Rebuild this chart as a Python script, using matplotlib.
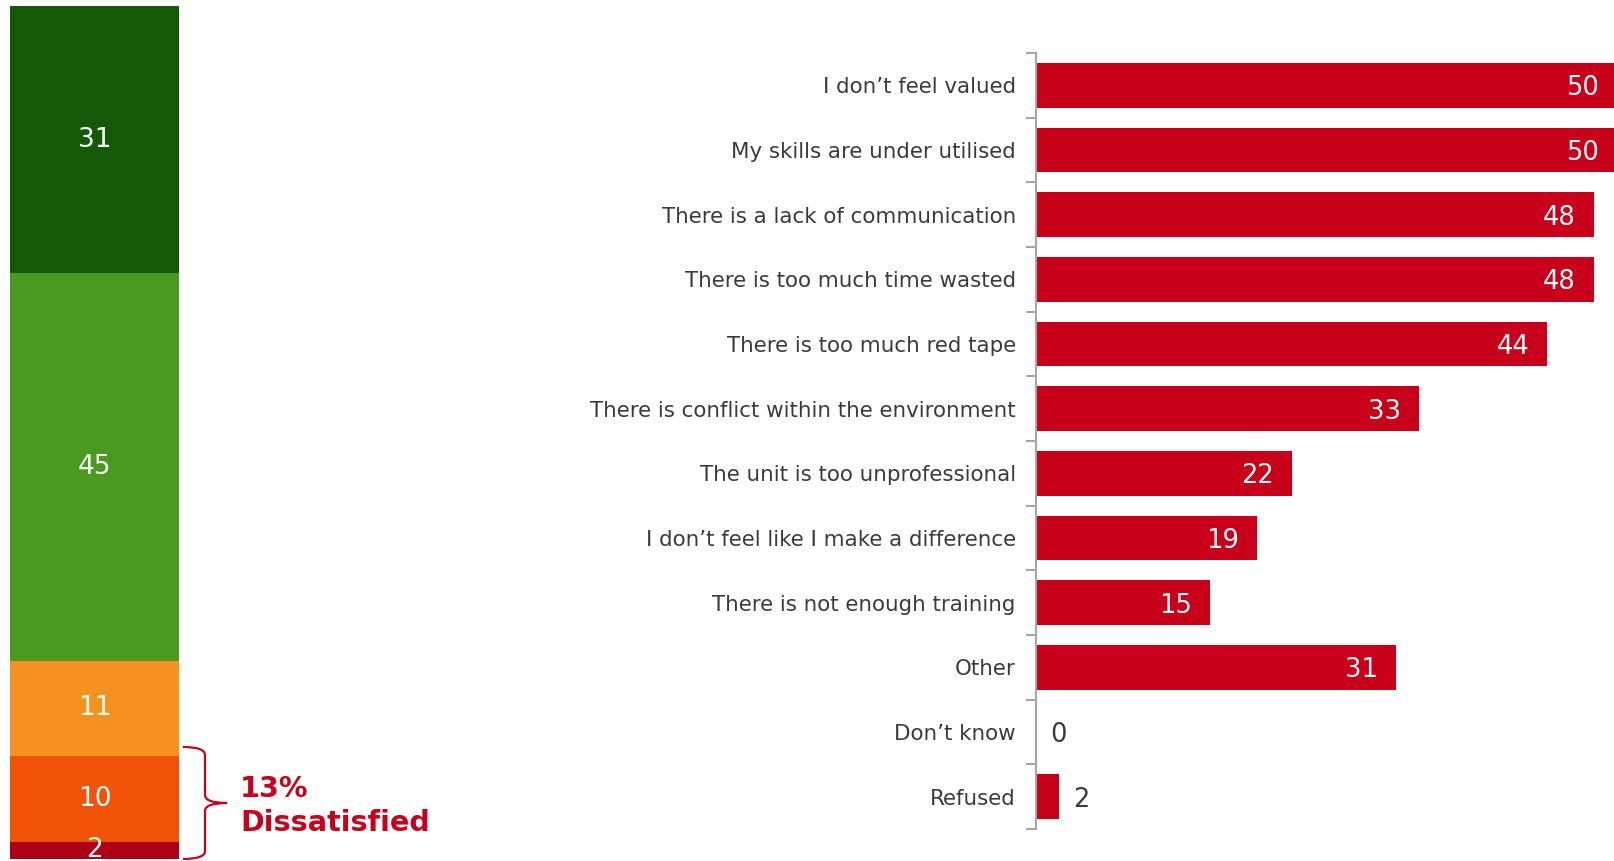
import matplotlib.pyplot as plt
from matplotlib.path import Path
from matplotlib.patches import PathPatch

# overall satisfaction (stacked, top to bottom)
sat_values = [31, 45, 11, 10, 2]
sat_colors = ['#145a06', '#4a9a1f', '#f5921f', '#f05208', '#ae0015']

# reasons for dissatisfaction
reasons = [
    "I don\u2019t feel valued",
    "My skills are under utilised",
    "There is a lack of communication",
    "There is too much time wasted",
    "There is too much red tape",
    "There is conflict within the environment",
    "The unit is too unprofessional",
    "I don\u2019t feel like I make a difference",
    "There is not enough training",
    "Other",
    "Don\u2019t know",
    "Refused",
]
reason_values = [50, 50, 48, 48, 44, 33, 22, 19, 15, 31, 0, 2]

RED = '#c8001a'
TEXT = '#3a3a3a'

W, H = 1614, 861
fig = plt.figure(figsize=(W / 100, H / 100), dpi=100)

# left stacked bar
ax1 = fig.add_axes([10 / W, 2 / H, 169 / W, 853 / H])
bottom = sum(sat_values)
for v, c in zip(sat_values, sat_colors):
    bottom -= v
    ax1.bar(0, v, bottom=bottom, width=1, color=c)
    ax1.text(0, bottom + v / 2, str(v), ha='center', va='center',
             color='white', fontsize=19)
ax1.set_xlim(-0.5, 0.5)
ax1.set_ylim(0, sum(sat_values))
ax1.axis('off')

# curly brace round the dissatisfied part (pixel coords, y from top)
def px(x, y):
    return (x / W, 1 - y / H)

bx0, bx1, bxt = 183, 205, 227
by0, by1, bym = 747, 859, 803
r = 8
verts = [
    px(bx0, by0),
    px(bx1, by0), px(bx1, by0 + r),
    px(bx1, bym - r),
    px(bx1, bym), px(bxt, bym),
    px(bx1, bym), px(bx1, bym + r),
    px(bx1, by1 - r),
    px(bx1, by1), px(bx0, by1),
]
codes = [Path.MOVETO,
         Path.CURVE3, Path.CURVE3,
         Path.LINETO,
         Path.CURVE3, Path.CURVE3,
         Path.CURVE3, Path.CURVE3,
         Path.LINETO,
         Path.CURVE3, Path.CURVE3]
fig.patches.append(PathPatch(Path(verts, codes), transform=fig.transFigure,
                             fill=False, edgecolor=RED, lw=1.6))
fig.text(240 / W, 1 - 797 / H, '13%', color=RED, fontsize=20.6,
         fontweight='bold', va='baseline', ha='left')
fig.text(240 / W, 1 - 831 / H, 'Dissatisfied', color=RED, fontsize=20.6,
         fontweight='bold', va='baseline', ha='left')

# right horizontal bar chart
ax2 = fig.add_axes([1036 / W, 1 - 829 / H, (W - 1036) / W, 776 / H])
y = list(range(len(reasons)))
ax2.barh(y, reason_values, height=0.69, color=RED, left=0)
ax2.set_ylim(len(reasons) - 0.5, -0.5)
ax2.set_xlim(0, 49.75)
for i, v in enumerate(reason_values):
    if v >= 10:
        ax2.annotate(str(v), (v, i), xytext=(-18, -3), textcoords='offset pixels',
                     ha='right', va='center', color='white', fontsize=18.5,
                     annotation_clip=False)
    else:
        ax2.annotate(str(v), (v, i), xytext=(14, -3), textcoords='offset pixels',
                     ha='left', va='center', color=TEXT, fontsize=18.5)

for s in ['top', 'right', 'bottom']:
    ax2.spines[s].set_visible(False)
ax2.spines['left'].set_color('#a6a6a6')
ax2.spines['left'].set_linewidth(1.5)
ax2.set_xticks([])
ax2.set_yticks([i - 0.5 for i in range(len(reasons) + 1)])
ax2.set_yticklabels([])
ax2.set_yticks(y, minor=True)
ax2.set_yticklabels(reasons, minor=True)
ax2.tick_params(axis='y', which='major', length=7, width=1.5, color='#a6a6a6')
ax2.tick_params(axis='y', which='minor', length=0, pad=14.5,
                labelsize=15.4, labelcolor=TEXT)

fig.savefig('out.png', dpi=100)
